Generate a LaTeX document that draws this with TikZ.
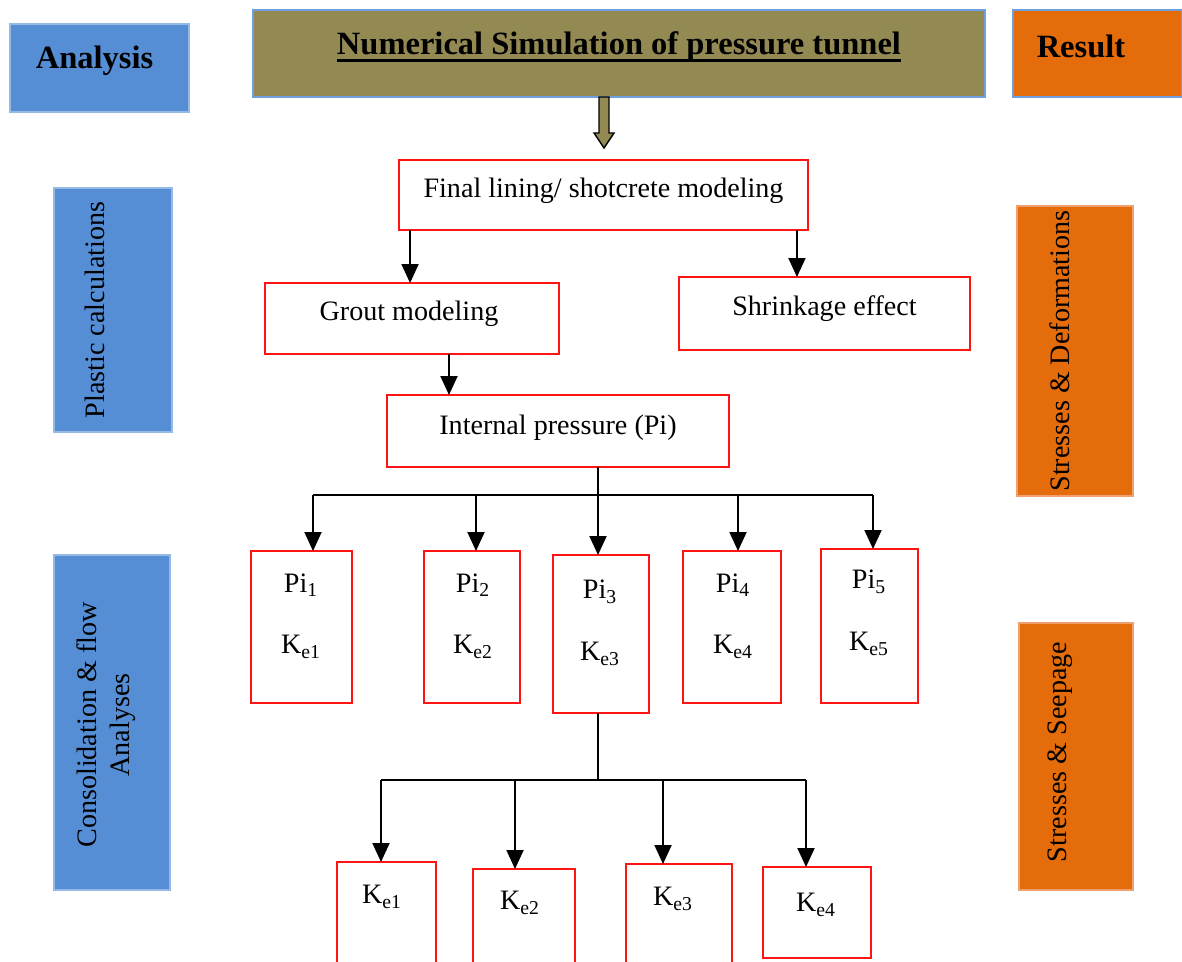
\documentclass[tikz,border=0pt]{standalone}
\usepackage{fontspec}
\setmainfont{Liberation Serif}
\usetikzlibrary{arrows.meta}
\definecolor{boxblue}{RGB}{85,142,213}
\definecolor{blueedge}{RGB}{150,185,230}
\definecolor{boxorange}{RGB}{228,108,10}
\definecolor{orangeedge}{RGB}{240,160,110}
\definecolor{boxolive}{RGB}{147,137,83}
\definecolor{headedge}{RGB}{110,160,225}
\definecolor{redline}{RGB}{255,20,20}
\begin{document}
\begin{tikzpicture}[x=0.02cm,y=-0.02cm,
  every node/.style={font=\fontsize{16}{19}\selectfont},
  base/.style={inner sep=0pt, outer sep=0pt},
  bluebox/.style={base, fill=boxblue, draw=blueedge, line width=1pt},
  orangebox/.style={base, fill=boxorange, draw=orangeedge, line width=1pt},
  olivebox/.style={base, fill=boxolive, draw=headedge, line width=1.2pt},
  redbox/.style={base, draw=redline, line width=1.4pt, fill=white},
  lbl/.style={inner sep=0pt},
  boldlbl/.style={inner sep=0pt, font=\bfseries\fontsize{18.5}{22}\selectfont},
  rotlbl/.style={inner sep=0pt, rotate=90, align=center},
  arr/.style={line width=1.1pt, -{Triangle[width=0.34cm,length=0.38cm]}},
  conn/.style={line width=1.1pt}
]
\useasboundingbox (0,0) rectangle (1182,962);
\clip (0,0) rectangle (1182,962);

% header row
\node[bluebox, minimum width=3.58cm, minimum height=1.76cm] (analysis) at (99.5,68) {};
\node[boldlbl] (analysist) at ([xshift=-0.1cm,yshift=0.14cm]analysis.center) {Analysis};
\node[olivebox, minimum width=14.64cm, minimum height=1.74cm] (header) at (619,53.5) {};
\node[boldlbl] (headert) at ([yshift=0.13cm]header.center) {Numerical Simulation of pressure tunnel};
\draw[line width=1.4pt] ([yshift=-3.2pt]headert.base west) -- ([yshift=-3.2pt]headert.base east);
\node[orangebox, draw=headedge, minimum width=3.38cm, minimum height=1.74cm] (result) at (1097.5,53.5) {};
\node[boldlbl] (resultt) at ([xshift=-0.33cm,yshift=0.14cm]result.center) {Result};

% side boxes
\node[bluebox, minimum width=2.36cm, minimum height=4.88cm] (plastic) at (113,310) {};
\node[rotlbl] (plastict) at ([xshift=-0.36cm]plastic.center) {Plastic calculations};
\node[bluebox, minimum width=2.32cm, minimum height=6.70cm] (consol) at (112,722.5) {};
\node[rotlbl] (consolt) at ([xshift=-0.12cm,yshift=-0.05cm]consol.center) {Consolidation \& flow\\Analyses};
\node[orangebox, minimum width=2.32cm, minimum height=5.80cm] (stressdef) at (1075,351) {};
\node[rotlbl] (stressdeft) at ([xshift=-0.3cm]stressdef.center) {Stresses \& Deformations};
\node[orangebox, minimum width=2.28cm, minimum height=5.34cm] (seepage) at (1076,756.5) {};
\node[rotlbl] (seepaget) at ([xshift=-0.32cm,yshift=0.09cm]seepage.center) {Stresses \& Seepage};

% hollow arrow from header
\coordinate (ha) at ([xshift=-0.3cm]header.south);
\draw[fill=boxolive, line width=0.8pt] (ha) ++(-5,0) -- ++(0,36) -- ++(-5,0) -- ++(10,15) -- ++(10,-15) -- ++(-5,0) -- ++(0,-36) -- cycle;

% main boxes
\node[redbox, minimum width=8.18cm, minimum height=1.40cm] (final) at (603.5,195) {};
\node[lbl] (finalt) at ([yshift=0.08cm]final.center) {Final lining/ shotcrete modeling};
\node[redbox, minimum width=5.88cm, minimum height=1.42cm] (grout) at (412,318.5) {};
\node[lbl] (groutt) at ([xshift=-0.06cm,yshift=0.1cm]grout.center) {Grout modeling};
\node[redbox, minimum width=5.82cm, minimum height=1.46cm] (shrink) at (824.5,313.5) {};
\node[lbl] (shrinkt) at ([yshift=0.1cm]shrink.center) {Shrinkage effect};
\node[redbox, minimum width=6.84cm, minimum height=1.44cm] (internal) at (558,431) {};
\node[lbl] (internalt) at ([yshift=0.07cm]internal.center) {Internal pressure (Pi)};

\draw[arr] ([xshift=0.22cm]final.south west) -- ([xshift=0.22cm]final.south west |- grout.north);
\draw[arr] ([xshift=-0.22cm]final.south east) -- ([xshift=-0.22cm]final.south east |- shrink.north);
\draw[arr] ([xshift=0.74cm]grout.south) -- ([xshift=0.74cm]grout.south |- internal.north);

% Pi boxes
\node[redbox, minimum width=2.02cm, minimum height=3.04cm] (pi1) at (301.5,627) {};
\node[redbox, minimum width=1.92cm, minimum height=3.04cm] (pi2) at (472,627) {};
\node[redbox, minimum width=1.92cm, minimum height=3.16cm] (pi3) at (601,634) {};
\node[redbox, minimum width=1.96cm, minimum height=3.04cm] (pi4) at (732,627) {};
\node[redbox, minimum width=1.94cm, minimum height=3.08cm] (pi5) at (869.5,626) {};
\node[lbl] (p1a) at (301,585) {Pi\textsubscript{1}};
\node[lbl] (p1b) at (301,647) {K\textsubscript{e1}};
\node[lbl] (p2a) at (473,585) {Pi\textsubscript{2}};
\node[lbl] (p2b) at (473,647) {K\textsubscript{e2}};
\node[lbl] (p3a) at (600,592) {Pi\textsubscript{3}};
\node[lbl] (p3b) at (600,654) {K\textsubscript{e3}};
\node[lbl] (p4a) at (733,585) {Pi\textsubscript{4}};
\node[lbl] (p4b) at (733,647) {K\textsubscript{e4}};
\node[lbl] (p5a) at (869,582) {Pi\textsubscript{5}};
\node[lbl] (p5b) at (869,644) {K\textsubscript{e5}};

\coordinate (bus1) at (598,495);
\draw[conn] ([xshift=0.8cm]internal.south) -- ([xshift=0.8cm]internal.south |- bus1);
\draw[conn] ([xshift=0.23cm]pi1.north |- bus1) -- ([xshift=0.07cm]pi5.north |- bus1);
\draw[arr] ([xshift=0.23cm]pi1.north |- bus1) -- ([xshift=0.23cm]pi1.north);
\draw[arr] ([xshift=0.08cm]pi2.north |- bus1) -- ([xshift=0.08cm]pi2.north);
\draw[arr] ([xshift=-0.06cm]pi3.north |- bus1) -- ([xshift=-0.06cm]pi3.north);
\draw[arr] ([xshift=0.12cm]pi4.north |- bus1) -- ([xshift=0.12cm]pi4.north);
\draw[arr] ([xshift=0.07cm]pi5.north |- bus1) -- ([xshift=0.07cm]pi5.north);

% K boxes
\node[redbox, minimum width=1.98cm, minimum height=2.26cm] (k1) at (386.5,918.5) {};
\node[redbox, minimum width=2.04cm, minimum height=2.12cm] (k2) at (524,922) {};
\node[redbox, minimum width=2.12cm, minimum height=2.22cm] (k3) at (679,919.5) {};
\node[redbox, minimum width=2.16cm, minimum height=1.82cm] (k4) at (817,912.5) {};
\node[lbl] (k1t) at (382,897) {K\textsubscript{e1}};
\node[lbl] (k2t) at (520,903) {K\textsubscript{e2}};
\node[lbl] (k3t) at (673,899) {K\textsubscript{e3}};
\node[lbl] (k4t) at (816,905) {K\textsubscript{e4}};

\coordinate (bus2) at (598,780);
\draw[conn] ([xshift=-0.06cm]pi3.south) -- ([xshift=-0.06cm]pi3.south |- bus2);
\draw[conn] ([xshift=-0.11cm]k1.north |- bus2) -- ([xshift=-0.22cm]k4.north |- bus2);
\draw[arr] ([xshift=-0.11cm]k1.north |- bus2) -- ([xshift=-0.11cm]k1.north);
\draw[arr] ([xshift=-0.18cm]k2.north |- bus2) -- ([xshift=-0.18cm]k2.north);
\draw[arr] ([xshift=-0.32cm]k3.north |- bus2) -- ([xshift=-0.32cm]k3.north);
\draw[arr] ([xshift=-0.22cm]k4.north |- bus2) -- ([xshift=-0.22cm]k4.north);
\end{tikzpicture}
\end{document}
